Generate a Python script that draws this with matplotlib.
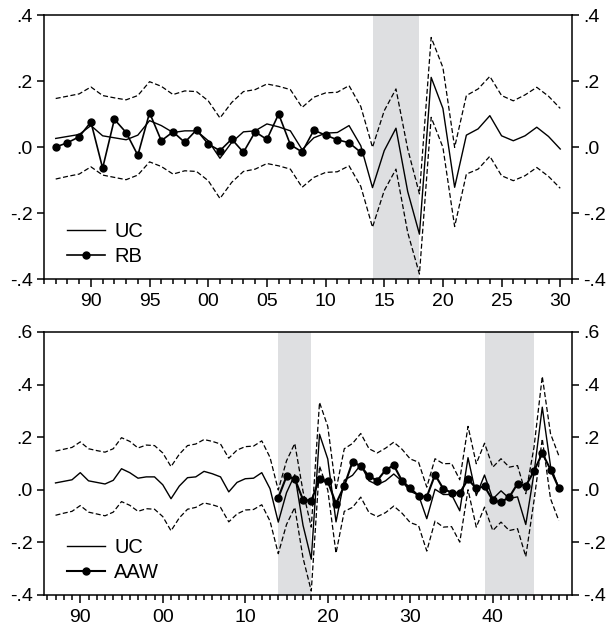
import numpy as np
import matplotlib
matplotlib.use('Agg')
import matplotlib.pyplot as plt
from matplotlib.ticker import MultipleLocator, FixedLocator

plt.rcParams['font.family'] = ['Liberation Sans', 'DejaVu Sans']

# UC estimate with upper / lower bands, 1987-2048
years = np.arange(1987, 2049)
uc = [0.026, 0.032, 0.038, 0.065, 0.034, 0.028, 0.022, 0.036, 0.080, 0.065,
      0.044, 0.049, 0.049, 0.019, -0.034, 0.014, 0.046, 0.049, 0.070, 0.061,
      0.049, -0.008, 0.028, 0.042, 0.044, 0.065, 0.004, -0.123, -0.011, 0.057,
      -0.135, -0.264, 0.211, 0.117, -0.122, 0.036, 0.055, 0.095, 0.034, 0.019,
      0.034, 0.060, 0.032, -0.006,
      -0.020, -0.110, 0.002, -0.018, -0.018, -0.080, 0.122, -0.022, 0.056, -0.035,
      -0.004, -0.033, -0.027, -0.132, 0.064, 0.314, 0.090, 0.006]
uc_hi = [0.147, 0.154, 0.161, 0.182, 0.156, 0.149, 0.143, 0.156, 0.198, 0.184,
         0.159, 0.170, 0.168, 0.140, 0.088, 0.135, 0.168, 0.174, 0.191, 0.184,
         0.174, 0.120, 0.151, 0.164, 0.166, 0.186, 0.123, -0.001, 0.110, 0.176,
         -0.006, -0.142, 0.332, 0.241, -0.001, 0.156, 0.176, 0.214, 0.156, 0.140,
         0.158, 0.181, 0.154, 0.117,
         0.105, 0.010, 0.118, 0.099, 0.100, 0.038, 0.241, 0.099, 0.177, 0.086,
         0.118, 0.086, 0.092, -0.015, 0.162, 0.431, 0.213, 0.130]
uc_lo = [-0.097, -0.089, -0.082, -0.060, -0.085, -0.092, -0.099, -0.085, -0.045, -0.059,
         -0.082, -0.072, -0.074, -0.102, -0.156, -0.107, -0.074, -0.067, -0.050, -0.057,
         -0.067, -0.122, -0.092, -0.077, -0.075, -0.057, -0.119, -0.243, -0.132, -0.067,
         -0.259, -0.385, 0.090, -0.001, -0.241, -0.082, -0.067, -0.028, -0.087, -0.102,
         -0.087, -0.062, -0.089, -0.125,
         -0.136, -0.233, -0.119, -0.142, -0.140, -0.199, 0.000, -0.142, -0.066, -0.155,
         -0.123, -0.155, -0.148, -0.254, -0.041, 0.194, -0.034, -0.117]

rb_years = np.arange(1987, 2014)
rb = [0.000, 0.013, 0.031, 0.076, -0.064, 0.084, 0.044, -0.025, 0.104, 0.019,
      0.046, 0.014, 0.052, 0.009, -0.011, 0.024, -0.016, 0.046, 0.023, 0.100,
      0.007, -0.015, 0.051, 0.036, 0.022, 0.013, -0.016]

aaw_years = np.arange(2014, 2049)
aaw = [-0.030, 0.051, 0.042, -0.038, -0.042, 0.041, 0.032, -0.053, 0.015, 0.106,
       0.090, 0.051, 0.035, 0.075, 0.093, 0.034, 0.006, -0.023, -0.027, 0.057,
       0.004, -0.011, -0.012, 0.040, 0.005, 0.013, -0.040, -0.047, -0.028, 0.023,
       0.015, 0.071, 0.139, 0.077, 0.007]

top_shade = [(2014, 2018)]
bot_shade = [(2014, 2018), (2039, 2045)]

shade_col = '#dedfe1'
fs = 14

fig = plt.figure(figsize=(6.09, 6.31), dpi=100)
ax1 = fig.add_axes([0.0722, 0.5578, 0.867, 0.4184])
ax2 = fig.add_axes([0.0722, 0.0571, 0.867, 0.4168])


def style(ax, xlim, ylim, ymajor, xmajor, ylabels):
    ax.set_xlim(*xlim)
    ax.set_ylim(*ylim)
    ax.yaxis.set_major_locator(FixedLocator(ymajor))
    ax.set_yticklabels(ylabels)
    ax.xaxis.set_major_locator(FixedLocator(xmajor))
    ax.set_xticklabels(['%02d' % (y % 100) for y in xmajor])
    ax.xaxis.set_minor_locator(MultipleLocator(1))
    ax.tick_params(axis='x', which='major', direction='out', length=6, width=1.1,
                   labelsize=fs, pad=4)
    ax.tick_params(axis='x', which='minor', direction='out', length=3.6, width=1.1)
    ax.tick_params(axis='y', which='major', direction='out', length=5, width=1.1,
                   left=True, right=True, labelleft=True, labelright=True,
                   labelsize=fs, pad=3)
    for s in ax.spines.values():
        s.set_linewidth(1.1)


def add_legend(ax):
    ax.legend(loc='lower left', frameon=False, fontsize=14.5, handlelength=1.9,
              handletextpad=0.45, borderaxespad=0, borderpad=0.4,
              bbox_to_anchor=(0.028, 0.02), labelspacing=0.3)


n_top = 44
for a, b in top_shade:
    ax1.axvspan(a, b, color=shade_col, lw=0, zorder=0)
ax1.plot(years[:n_top], uc_hi[:n_top], 'k--', lw=0.9, dashes=(4, 2))
ax1.plot(years[:n_top], uc_lo[:n_top], 'k--', lw=0.9, dashes=(4, 2))
ax1.plot(years[:n_top], uc[:n_top], 'k-', lw=1.0, label='UC')
ax1.plot(rb_years, rb, 'k-', lw=1.2, marker='o', ms=5, label='RB')
style(ax1, (1986, 2031), (-0.4, 0.4), [-0.4, -0.2, 0.0, 0.2, 0.4],
      list(range(1990, 2031, 5)), ['-.4', '-.2', '.0', '.2', '.4'])
add_legend(ax1)

for a, b in bot_shade:
    ax2.axvspan(a, b, color=shade_col, lw=0, zorder=0)
ax2.plot(years, uc_hi, 'k--', lw=0.9, dashes=(4, 2))
ax2.plot(years, uc_lo, 'k--', lw=0.9, dashes=(4, 2))
ax2.plot(years, uc, 'k-', lw=1.0, label='UC')
ax2.plot(aaw_years, aaw, 'k-', lw=1.5, marker='o', ms=5, label='AAW')
style(ax2, (1985.6, 2049.6), (-0.4, 0.6), [-0.4, -0.2, 0.0, 0.2, 0.4, 0.6],
      list(range(1990, 2041, 10)), ['-.4', '-.2', '.0', '.2', '.4', '.6'])
add_legend(ax2)

fig.savefig('out.png', dpi=100)
